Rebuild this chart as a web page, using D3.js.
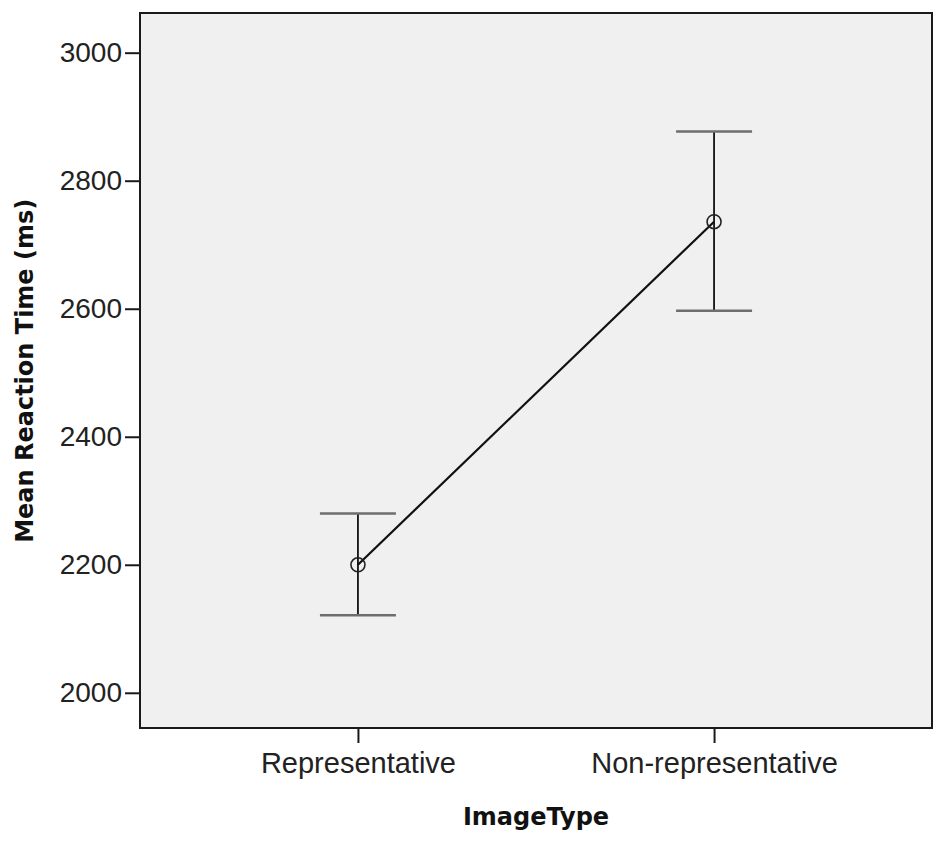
<!DOCTYPE html>
<html>
<head>
<meta charset="utf-8">
<script src="https://cdn.jsdelivr.net/npm/d3@7"></script>
<style>
  body { margin: 0; background: #fff; }
</style>
</head>
<body>
<script>
// data
const categories = ["Representative", "Non-representative"];
const means = [2200, 2736];
const upper = [2280, 2877];
const lower = [2121, 2597];
const yTicks = [2000, 2200, 2400, 2600, 2800, 3000];

const width = 945;
const height = 841;
const margin = {top: 13, right: 13, bottom: 113, left: 140};

const data = categories.map((c, i) => ({cat: c, mean: means[i], hi: upper[i], lo: lower[i]}));

const svg = d3.select("body")
      .append("svg")
      .attr("width", width)
      .attr("height", height);

const xScale = d3.scalePoint()
      .domain(categories)
      .range([margin.left, width - margin.right])
      .padding(0.612);

const yScale = d3.scaleLinear()
      .domain([1945, 3062])
      .range([height - margin.bottom, margin.top]);

// plot background + frame
svg.append("rect")
      .attr("x", margin.left)
      .attr("y", margin.top)
      .attr("width", width - margin.left - margin.right)
      .attr("height", height - margin.top - margin.bottom)
      .attr("fill", "#f0f0f0")
      .attr("stroke", "#1a1a1a")
      .attr("stroke-width", 2);

// y axis
const yAxis = svg.append("g")
      .attr("transform", `translate(${margin.left - 1}, 0)`)
      .call(d3.axisLeft(yScale).tickValues(yTicks).tickFormat(d3.format("d")).tickSize(14).tickPadding(3));
yAxis.select(".domain").remove();
yAxis.selectAll(".tick line").attr("stroke", "#1a1a1a").attr("stroke-width", 2);
yAxis.selectAll(".tick text")
      .attr("font-family", "Liberation Sans, Arial, sans-serif")
      .attr("font-size", 28)
      .attr("fill", "#222");

// x axis
const xAxis = svg.append("g")
      .attr("transform", `translate(0, ${height - margin.bottom + 1})`)
      .call(d3.axisBottom(xScale).tickSize(14).tickPadding(9));
xAxis.select(".domain").remove();
xAxis.selectAll(".tick line").attr("stroke", "#1a1a1a").attr("stroke-width", 2);
xAxis.selectAll(".tick text")
      .attr("font-family", "Liberation Sans, Arial, sans-serif")
      .attr("font-size", 29)
      .attr("fill", "#222");

// axis titles
svg.append("text")
      .attr("transform", `translate(33, ${yScale(2503)}) rotate(-90)`)
      .attr("text-anchor", "middle")
      .attr("font-family", "DejaVu Sans, Verdana, sans-serif")
      .attr("font-weight", "bold")
      .attr("font-size", 24)
      .attr("fill", "#111")
      .text("Mean Reaction Time (ms)");

svg.append("text")
      .attr("x", 536)
      .attr("y", 825)
      .attr("text-anchor", "middle")
      .attr("font-family", "DejaVu Sans, Verdana, sans-serif")
      .attr("font-weight", "bold")
      .attr("font-size", 24)
      .attr("fill", "#111")
      .text("ImageType");

// error bars
const capHalf = 38;
svg.selectAll(".whisker")
      .data(data)
      .enter()
      .append("line")
      .attr("x1", d => xScale(d.cat))
      .attr("x2", d => xScale(d.cat))
      .attr("y1", d => yScale(d.hi))
      .attr("y2", d => yScale(d.lo))
      .attr("stroke", "#111")
      .attr("stroke-width", 1.8);

["hi", "lo"].forEach(k => {
      svg.selectAll(".cap-" + k)
            .data(data)
            .enter()
            .append("line")
            .attr("x1", d => xScale(d.cat) - capHalf)
            .attr("x2", d => xScale(d.cat) + capHalf)
            .attr("y1", d => yScale(d[k]))
            .attr("y2", d => yScale(d[k]))
            .attr("stroke", "#6e6e6e")
            .attr("stroke-width", 2.5);
});

// mean line
svg.append("path")
      .datum(data)
      .attr("fill", "none")
      .attr("stroke", "#111")
      .attr("stroke-width", 2.2)
      .attr("d", d3.line()
          .x(d => xScale(d.cat))
          .y(d => yScale(d.mean)));

svg.selectAll(".pt")
      .data(data)
      .enter()
      .append("circle")
      .attr("cx", d => xScale(d.cat))
      .attr("cy", d => yScale(d.mean))
      .attr("r", 7)
      .attr("fill", "none")
      .attr("stroke", "#222")
      .attr("stroke-width", 1.6);
</script>
</body>
</html>
